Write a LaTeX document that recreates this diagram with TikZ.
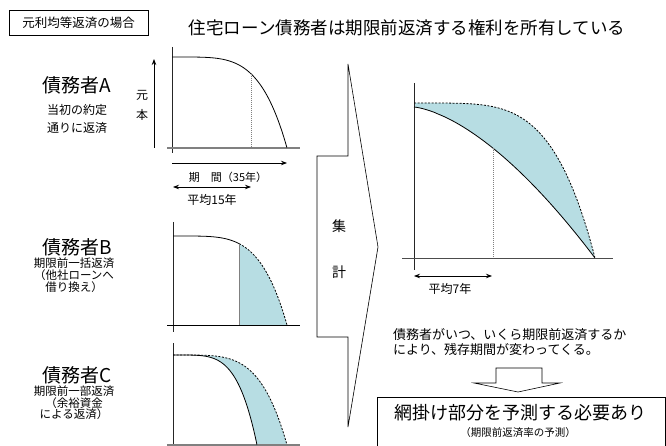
\documentclass[tikz,border=0pt]{standalone}
\usepackage{fontspec}
\setmainfont{Noto Sans CJK JP}
\usetikzlibrary{arrows.meta}
\definecolor{mesh}{RGB}{183,221,227}
\definecolor{axisgray}{RGB}{128,128,128}
\begin{document}
\begin{tikzpicture}[x=1pt,y=-1pt,
  curve/.style={line width=0.8pt},
  dashcurve/.style={line width=0.8pt,dash pattern=on 2pt off 1.5pt},
  guide/.style={line width=0.5pt,gray,dash pattern=on 1pt off 1pt},
  axisline/.style={line width=0.9pt,black!85},
  baseaxis/.style={line width=1.3pt,axisgray},
  blackaxis/.style={line width=0.9pt,black},
  arr/.style={line width=0.8pt,-{Stealth[length=6pt,width=4.5pt]}},
  darr/.style={line width=0.8pt,{Stealth[length=6pt,width=4.5pt]}-{Stealth[length=6pt,width=4.5pt]}},
  outline/.style={line width=0.6pt},
  big/.style={font=\fontsize{19}{22}\selectfont},
  lbl/.style={font=\fontsize{12}{14}\selectfont},
  inner sep=0pt, outer sep=0pt]
\useasboundingbox (0,0) rectangle (666,446);

% top-left label box
\node[draw,outline,minimum width=139pt,minimum height=25pt,font=\fontsize{12.5}{14}\selectfont] (case) at (78.5,22.5) {元利均等返済の場合};
% title
\node[font=\fontsize{17.5}{20}\selectfont] (title) at (407,28) {住宅ローン債務者は期限前返済する権利を所有している};

% ---------- debtor A ----------
\node[big] (dA) at (77,85) {債務者A};
\node[align=center,font=\fontsize{12}{18}\selectfont] (dAt) at (77,119) {当初の約定\\通りに返済};
\node[lbl] (gen) at (142,95) {元};
\node[lbl] (hon) at (142,115) {本};
\coordinate (upS) at (154,148); \coordinate (upE) at (154,59);
\draw[arr] (upS) -- (upE);
\coordinate (AvT) at (172,47); \coordinate (AvB) at (172,153);
\draw[axisline] (AvT) -- (AvB);
\coordinate (AhL) at (167,148); \coordinate (AhR) at (300,148);
\draw[baseaxis] (AhL) -- (AhR);
\draw[curve] (172,57) -- plot[domain=0.02:1,samples=80,variable=\t] ({172+115*\t},{57+91*\t^4.5});
\coordinate (AgT) at (251,73.8); \coordinate (AgB) at (251,148);
\draw[guide] (AgT) -- (AgB);
\coordinate (perS) at (172,163); \coordinate (perE) at (287,163);
\draw[arr] (perS) -- (perE);
\node[font=\fontsize{11}{13}\selectfont] (per) at (228,177) {期　間（35年）};
\coordinate (avS) at (173,187); \coordinate (avE) at (251,187);
\draw[darr] (avS) -- (avE);
\node[lbl] (av15) at (212,200) {平均15年};

% ---------- debtor B ----------
\node[big] (dB) at (77,247) {債務者B};
\node[align=center,font=\fontsize{11.5}{12}\selectfont] (dBt) at (74,275) {期限前一括返済\\（他社ローンへ\\借り換え）};
\fill[mesh] plot[domain=0.58:1,samples=60,variable=\t] ({173+114*\t},{236+89*\t^4.5}) -- (239.1,325) -- cycle;
\coordinate (BvT) at (173,222); \coordinate (BvB) at (173,332);
\draw[axisline] (BvT) -- (BvB);
\coordinate (BhL) at (167,325); \coordinate (BhR) at (300,325);
\draw[blackaxis] (BhL) -- (BhR);
\draw[curve] (173,236) -- plot[domain=0.02:0.58,samples=60,variable=\t] ({173+114*\t},{236+89*\t^4.5});
\draw[dashcurve] plot[domain=0.58:1,samples=60,variable=\t] ({173+114*\t},{236+89*\t^4.5});
\coordinate (BlT) at (239.1,243.7); \coordinate (BlB) at (239.1,325);
\draw[line width=1pt,axisgray] (BlT) -- (BlB);

% ---------- debtor C ----------
\node[big] (dC) at (77,375) {債務者C};
\node[align=center,font=\fontsize{11.5}{11.5}\selectfont] (dCt) at (74,403) {期限前一部返済\\（余裕資金\\による返済）};
\fill[mesh] plot[domain=0.02:1,samples=80,variable=\t] ({173+114*\t},{355+90*\t^4.5})
  -- plot[domain=1:0.02,samples=80,variable=\t] ({173+84*\t},{355+90*\t^4.5}) -- cycle;
\coordinate (CvT) at (173,343); \coordinate (CvB) at (173,450);
\draw[axisline] (CvT) -- (CvB);
\coordinate (ChL) at (167,445); \coordinate (ChR) at (300,445);
\draw[baseaxis] (ChL) -- (ChR);
\draw[curve] (173,355) -- plot[domain=0.02:1,samples=80,variable=\t] ({173+84*\t},{355+90*\t^4.5});
\draw[dashcurve] (173,355) -- plot[domain=0.02:1,samples=80,variable=\t] ({173+114*\t},{355+90*\t^4.5});

% ---------- aggregation arrow ----------
\draw[outline] (348,64) -- (378,247) -- (348,427) -- (348,337) -- (317,337) -- (317,156) -- (348,156) -- cycle;
\node[font=\fontsize{14}{16}\selectfont] (shu) at (339,226) {集};
\node[font=\fontsize{14}{16}\selectfont] (kei) at (339,272) {計};

% ---------- aggregate chart ----------
\fill[mesh] plot[domain=0.02:1,samples=80,variable=\t] ({414+181*\t},{103+155*\t^4.5})
  -- plot[domain=1:0,samples=80,variable=\t] ({414+181*\t},{107+151*(0.1*\t+0.9*\t^1.65)}) -- (414,103) -- cycle;
\coordinate (RvT) at (414,83); \coordinate (RvB) at (414,270);
\draw[axisline] (RvT) -- (RvB);
\coordinate (RhL) at (402,258); \coordinate (RhR) at (613,258);
\draw[line width=1pt,black!70] (RhL) -- (RhR);
\draw[curve] plot[domain=0:1,samples=80,variable=\t] ({414+181*\t},{107+151*(0.1*\t+0.9*\t^1.65)});
\draw[dashcurve] (414,103) -- plot[domain=0.02:1,samples=80,variable=\t] ({414+181*\t},{103+155*\t^4.5});
\coordinate (RgT) at (493,148.2); \coordinate (RgB) at (493,258);
\draw[guide] (RgT) -- (RgB);
\coordinate (r7S) at (414,276); \coordinate (r7E) at (492,276);
\draw[darr] (r7S) -- (r7E);
\node[lbl] (av7) at (450,289) {平均7年};

\node[anchor=west,align=left,font=\fontsize{13}{15}\selectfont] (note) at (393,342.5) {債務者がいつ、いくら期限前返済するか\\により、残存期間が変わってくる。};

% ---------- down block arrow ----------
\draw[outline] (496,368) -- (542,368) -- (542,383) -- (560,383) -- (518,392) -- (474,383) -- (496,383) -- cycle;

% ---------- conclusion box ----------
\draw[outline] (377,452) -- (377,397) -- (665,397) -- (665,452);
\node[font=\fontsize{18}{20}\selectfont] (need) at (520,413) {網掛け部分を予測する必要あり};
\node[font=\fontsize{10.5}{12}\selectfont] (pred) at (518,433) {（期限前返済率の予測）};
\end{tikzpicture}
\end{document}
